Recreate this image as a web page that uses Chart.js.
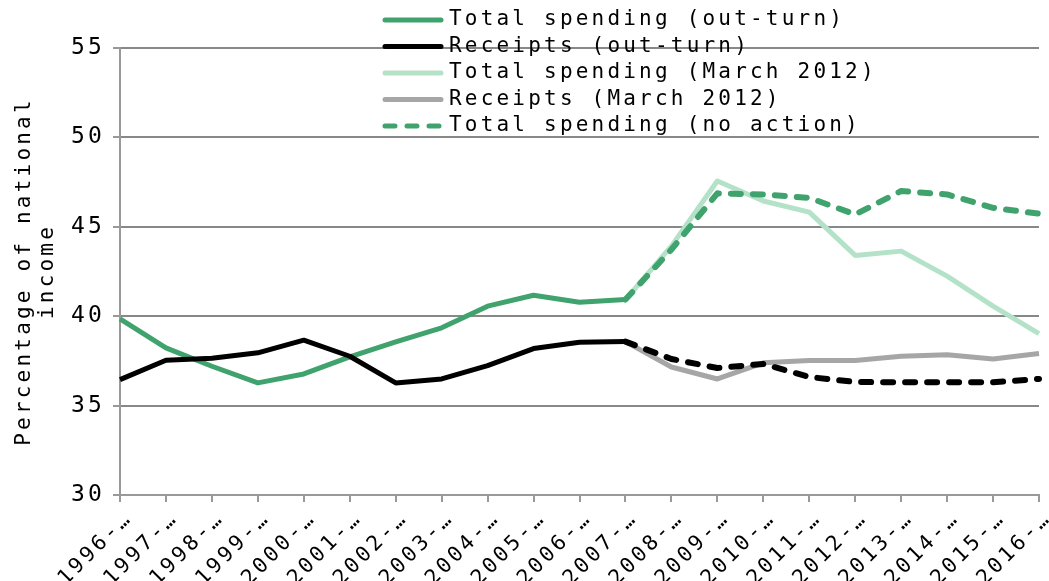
<!DOCTYPE html>
<html>
<head>
<meta charset="utf-8">
<script src="https://cdn.jsdelivr.net/npm/chart.js@4.4.1/dist/chart.umd.min.js"></script>
<style>
  html, body { margin: 0; padding: 0; background: #fff; }
  #wrap { width: 1049px; height: 581px; }
</style>
</head>
<body>
<div id="wrap"><canvas id="chart"></canvas></div>
<script>
// financial years, as the axis shows them (cut off)
const years = ['1996-…', '1997-…', '1998-…', '1999-…', '2000-…', '2001-…', '2002-…',
    '2003-…', '2004-…', '2005-…', '2006-…', '2007-…', '2008-…', '2009-…',
    '2010-…', '2011-…', '2012-…', '2013-…', '2014-…', '2015-…', '2016-…'];

const yTicks = [30, 35, 40, 45, 50, 55];

const N = null;
const totalOutturn    = [39.85, 38.23, 37.2, 36.27, 36.77, 37.72, 38.56, 39.35, 40.56, 41.17, 40.78, 40.93, N, N, N, N, N, N, N, N, N];
const receiptsOutturn = [36.45, 37.54, 37.65, 37.95, 38.66, 37.76, 36.27, 36.49, 37.24, 38.19, 38.54, 38.58, N, N, N, N, N, N, N, N, N];
const totalMarch      = [N, N, N, N, N, N, N, N, N, N, N, 40.93, 43.92, 47.56, 46.44, 45.82, 43.4, 43.64, 42.24, 40.56, 39.03];
const receiptsMarch   = [N, N, N, N, N, N, N, N, N, N, N, 38.58, 37.16, 36.49, 37.39, 37.52, 37.52, 37.76, 37.85, 37.61, 37.91];
const totalNoAction   = [N, N, N, N, N, N, N, N, N, N, N, 40.93, 43.73, 46.87, 46.81, 46.62, 45.69, 47.0, 46.81, 46.06, 45.73];
const receiptsNoAction = [N, N, N, N, N, N, N, N, N, N, N, 38.58, 37.61, 37.1, 37.33, 36.6, 36.32, 36.3, 36.3, 36.3, 36.49];

const GREEN = '#40a36e';
const LIGHT = '#b3e2c8';
const GREY = '#a6a6a6';
const FONT = '"DejaVu Sans Mono", monospace';
const SPACING = '3.2px';

// legend shows only the first five series
const legendOrder = [0, 1, 2, 3, 4];

const spacingPlugin = {
    id: 'spacing',
    beforeUpdate(c) { c.ctx.letterSpacing = SPACING; },
    beforeLayout(c) { c.ctx.letterSpacing = SPACING; },
    beforeDraw(c) { c.ctx.letterSpacing = SPACING; }
};

const legendPlugin = {
    id: 'lineLegend',
    afterDraw(chart) {
        const ctx = chart.ctx;
        ctx.save();
        ctx.letterSpacing = SPACING;
        ctx.font = '21px ' + FONT;
        ctx.textBaseline = 'middle';
        ctx.textAlign = 'left';
        legendOrder.forEach((idx, i) => {
            const ds = chart.data.datasets[idx];
            const y = 20 + i * 26.5;
            ctx.beginPath();
            ctx.strokeStyle = ds.borderColor;
            ctx.lineWidth = 5;
            ctx.lineCap = 'round';
            ctx.setLineDash(ds.borderDash || []);
            ctx.moveTo(385, y);
            ctx.lineTo(441, y);
            ctx.stroke();
            ctx.fillStyle = '#000';
            ctx.fillText(ds.label, 449, y);
        });
        ctx.restore();
    }
};

function line(label, data, color, order, dashed) {
    return {
        label: label,
        data: data,
        borderColor: color,
        backgroundColor: color,
        borderWidth: dashed ? 6 : 5,
        borderDash: dashed ? [10, 12] : [],
        borderCapStyle: dashed ? 'round' : 'butt',
        borderJoinStyle: 'round',
        pointRadius: 0,
        tension: 0,
        fill: false,
        spanGaps: false,
        order: order
    };
}

new Chart(document.getElementById('chart'), {
    type: 'line',
    data: {
        labels: years,
        datasets: [
            line('Total spending (out-turn)', totalOutturn, GREEN, 3, false),
            line('Receipts (out-turn)', receiptsOutturn, '#000', 2, false),
            line('Total spending (March 2012)', totalMarch, LIGHT, 5, false),
            line('Receipts (March 2012)', receiptsMarch, GREY, 4, false),
            line('Total spending (no action)', totalNoAction, GREEN, 0, true),
            line('Receipts (no action)', receiptsNoAction, '#000', 1, true)
        ]
    },
    options: {
        responsive: true,
        maintainAspectRatio: false,
        animation: false,
        layout: { padding: { top: 48, right: 10, left: 0, bottom: 0 } },
        plugins: {
            legend: { display: false },
            tooltip: { enabled: false }
        },
        scales: {
            x: {
                offset: false,
                afterFit(s) {
                    s.height = 86;
                    s.paddingLeft = 0;
                    s.paddingRight = 0;
                },
                grid: {
                    drawOnChartArea: false,
                    drawTicks: true,
                    tickLength: 7,
                    color: '#999',
                    lineWidth: 2
                },
                border: { color: '#999', width: 2 },
                ticks: {
                    autoSkip: false,
                    minRotation: 45,
                    maxRotation: 45,
                    padding: 4,
                    labelOffset: 9,
                    color: '#000',
                    font: { family: FONT, size: 21 }
                }
            },
            y: {
                min: yTicks[0],
                max: yTicks[yTicks.length - 1],
                afterFit(s) { s.width = 120; },
                afterBuildTicks(s) { s.ticks = yTicks.map(v => ({ value: v })); },
                grid: {
                    color: '#888',
                    lineWidth: 2,
                    borderDash: [8, 6],
                    tickBorderDash: [],
                    tickLength: 7,
                    tickColor: '#999'
                },
                border: { color: '#999', width: 2 },
                ticks: {
                    padding: 8,
                    color: '#000',
                    font: { family: FONT, size: 23 }
                },
                title: {
                    display: true,
                    text: ['Percentage of national', 'income'],
                    color: '#000',
                    font: { family: FONT, size: 21, lineHeight: 1.1 },
                    padding: { top: 13, bottom: 0 }
                }
            }
        }
    },
    plugins: [spacingPlugin, legendPlugin]
});
</script>
</body>
</html>
